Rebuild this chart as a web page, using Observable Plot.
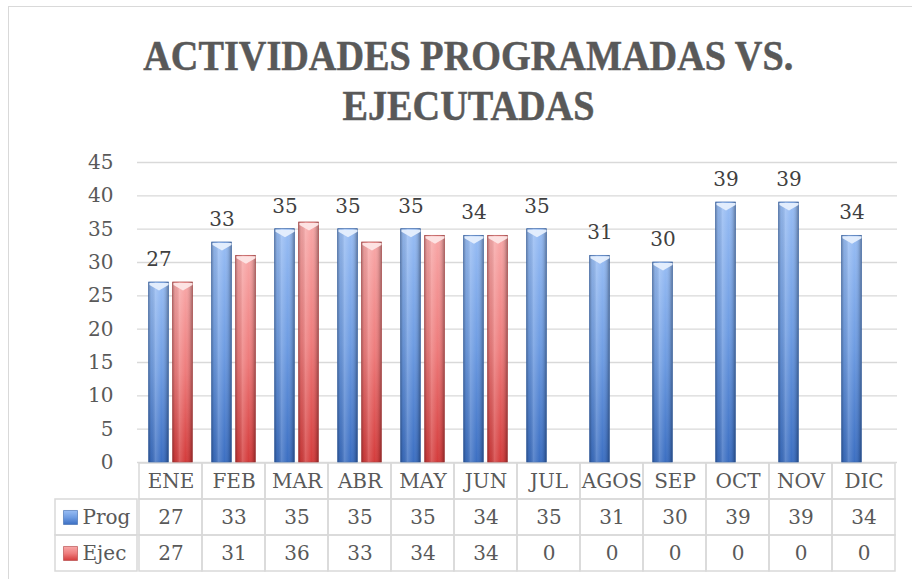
<!DOCTYPE html>
<html>
<head>
<meta charset="utf-8">
<script src="https://cdn.jsdelivr.net/npm/d3@7"></script>
<script src="https://cdn.jsdelivr.net/npm/@observablehq/plot@0.6"></script>
<style>
  html, body { margin: 0; padding: 0; background: #fff; overflow: hidden; }
  #wrap { position: relative; width: 912px; height: 579px; overflow: hidden; background: #fff; }
  #frame { position: absolute; left: 8px; top: 6px; width: 940px; height: 620px; border: 1px solid #d9d9d9; box-sizing: border-box; }
  #title { position: absolute; left: 0; top: 31px; width: 936px; text-align: center;
           font-family: "Liberation Serif", serif; font-weight: bold; font-size: 42px; line-height: 50px; color: #595959;
           -webkit-text-stroke: 0.5px #595959; }
  #title span { display: inline-block; transform-origin: center; white-space: nowrap; }
  #chart { position: absolute; left: 0; top: 0; }
  #table { position: absolute; left: 0; top: 462px; }
</style>
</head>
<body>
<div id="wrap">
  <div id="frame"></div>
  <div id="title"><span id="t1">ACTIVIDADES PROGRAMADAS VS.</span><br><span id="t2">EJECUTADAS</span></div>
  <div id="table"></div>
  <div id="chart"></div>
</div>
<script>
// ---- data ----
const months = ["ENE","FEB","MAR","ABR","MAY","JUN","JUL","AGOS","SEP","OCT","NOV","DIC"];
const prog = [27,33,35,35,35,34,35,31,30,39,39,34];
const ejec = [27,31,36,33,34,34,0,0,0,0,0,0];
const seriesNames = ["Prog","Ejec"];
const yTicks = [0,5,10,15,20,25,30,35,40,45];
const headerRow = "Mes";

// ---- tables built from arrays ----
const progData = months.map((m, i) => ({month: m, value: prog[i]}));
const ejecData = months.map((m, i) => ({month: m, value: ejec[i]}));
const tableCells = [];
months.forEach((m, i) => {
  tableCells.push({month: m, row: headerRow, text: m});
  tableCells.push({month: m, row: seriesNames[0], text: String(prog[i])});
  tableCells.push({month: m, row: seriesNames[1], text: String(ejec[i])});
});

const FONT = "DejaVu Serif";
const gray = "#595959";

// custom bevel symbol on top of the bars
const bevel = {
  draw(ctx) {
    ctx.moveTo(-9.5, 0.5); ctx.lineTo(9.5, 0.5); ctx.lineTo(9.5, 2.5); ctx.lineTo(0, 8); ctx.lineTo(-9.5, 2.5); ctx.closePath();
  }
};

const barW = 20, offset = 12, band = 63.33;
const inset = (band - barW) / 2;

const chart = Plot.plot({
  width: 912, height: 485,
  marginTop: 162, marginBottom: 23, marginLeft: 137, marginRight: 15,
  style: {fontFamily: FONT, background: "transparent"},
  x: {domain: months, padding: 0, axis: null},
  y: {domain: [0, 45], axis: null},
  marks: [
    Plot.ruleY(yTicks, {stroke: "#d9d9d9", strokeWidth: 1.4}),
    Plot.axisY({ticks: yTicks, tickSize: 0, tickPadding: 24, fontSize: 20, fill: gray, label: null, fontFamily: FONT}),
    // programadas
    Plot.barY(progData, {x: "month", y: "value", dx: -offset, insetLeft: inset, insetRight: inset,
      fill: "url(#gBlue)", stroke: "#3b68ad", strokeWidth: 0.7}),
    Plot.barY(progData, {x: "month", y: "value", dx: -offset, insetLeft: inset, insetRight: inset,
      fill: "url(#gShade)"}),
    Plot.dot(progData, {x: "month", y: "value", dx: -offset, symbol: bevel, fill: "#e6effd", fillOpacity: 0.95, stroke: "none"}),
    // ejecutadas
    Plot.barY(ejecData.filter(d => d.value > 0), {x: "month", y: "value", dx: offset, insetLeft: inset, insetRight: inset,
      fill: "url(#gRed)", stroke: "#b04040", strokeWidth: 0.7}),
    Plot.barY(ejecData.filter(d => d.value > 0), {x: "month", y: "value", dx: offset, insetLeft: inset, insetRight: inset,
      fill: "url(#gShade)"}),
    Plot.dot(ejecData.filter(d => d.value > 0), {x: "month", y: "value", dx: offset, symbol: bevel, fill: "#fde6e6", fillOpacity: 0.95, stroke: "none"}),
    // data labels for Prog
    Plot.text(progData, {x: "month", y: "value", text: d => String(d.value), dx: -offset, dy: -16.5, lineAnchor: "bottom",
      fontSize: 20, fill: "#404040", fontFamily: FONT})
  ]
});

// gradients
const defs = d3.select(chart).insert("defs", ":first-child");
function vgrad(id, stops) {
  const g = defs.append("linearGradient").attr("id", id).attr("x1", 0).attr("y1", 0).attr("x2", 0).attr("y2", 1);
  stops.forEach(([o, c]) => g.append("stop").attr("offset", o).attr("stop-color", c));
}
vgrad("gBlue", [[0, "#98bdf4"], [0.5, "#6e9ce2"], [1, "#3c6fc2"]]);
vgrad("gRed", [[0, "#f8a8a8"], [0.5, "#ee7c7c"], [1, "#d43c3c"]]);
{
  const g = defs.append("linearGradient").attr("id", "gShade").attr("x1", 0).attr("y1", 0).attr("x2", 1).attr("y2", 0);
  [[0, "#000", 0.28], [0.12, "#000", 0.06], [0.35, "#fff", 0.18], [0.65, "#fff", 0.0], [0.88, "#000", 0.12], [1, "#000", 0.32]]
    .forEach(([o, c, a]) => g.append("stop").attr("offset", o).attr("stop-color", c).attr("stop-opacity", a));
}
document.getElementById("chart").appendChild(chart);

// data table below the chart
const table = Plot.plot({
  width: 912, height: 110,
  marginTop: 0, marginBottom: 1, marginLeft: 137, marginRight: 15,
  style: {fontFamily: FONT, background: "transparent", overflow: "visible"},
  x: {domain: months, padding: 0, axis: null},
  y: {domain: [headerRow, ...seriesNames], padding: 0, axis: null},
  marks: [
    Plot.cell(tableCells, {x: "month", y: "row", fill: "none", stroke: "#d9d9d9", strokeWidth: 1.5}),
    Plot.cell(seriesNames, {y: d => d, insetLeft: -82, insetRight: 760, fill: "none", stroke: "#d9d9d9", strokeWidth: 1.5}),
    Plot.text(tableCells, {x: "month", y: "row", text: "text", fontSize: 20, fill: gray, fontFamily: FONT}),
    Plot.dot(seriesNames, {y: d => d, frameAnchor: "left", dx: -67, symbol: "square", r: 7.9,
      fill: d => d === "Prog" ? "url(#gBlue)" : "url(#gRed)", stroke: d => d === "Prog" ? "#3b68ad" : "#b04040", strokeWidth: 0.6}),
    Plot.text(seriesNames, {y: d => d, text: d => d, frameAnchor: "left", dx: -55, textAnchor: "start",
      fontSize: 20, fill: gray, fontFamily: FONT})
  ]
});
document.getElementById("table").appendChild(table);

// fit the title's first line to its width in the reference
const t1 = document.getElementById("t1"), t2 = document.getElementById("t2");
const s = 650 / t1.getBoundingClientRect().width;
t1.style.transform = `scaleX(${s})`;
t2.style.transform = `scaleX(${s})`;
</script>
</body>
</html>
